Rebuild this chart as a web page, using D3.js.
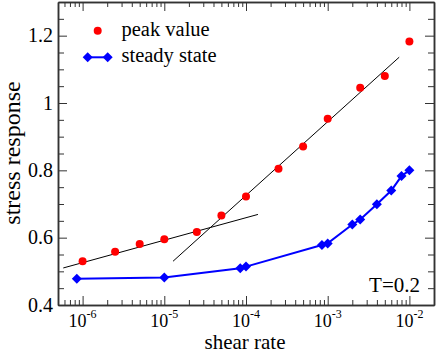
<!DOCTYPE html>
<html>
<head>
<meta charset="utf-8">
<script src="https://cdn.jsdelivr.net/npm/d3@7"></script>
<style>
body { margin: 0; background: #fff; }
svg { display: block; font-family: "Liberation Serif", serif; }
svg text { font-family: "Liberation Serif", serif; fill: #000; }
</style>
</head>
<body>
<script>
// peak value (red dots)
var peakRate = [1e-6, 2.5e-6, 5e-6, 1e-5, 2.5e-5, 5e-5, 1e-4, 2.5e-4, 5e-4, 1e-3, 2.5e-3, 5e-3, 1e-2]
var peakValue = [0.530, 0.558, 0.581, 0.595, 0.617, 0.666, 0.722, 0.805, 0.871, 0.953, 1.045, 1.080, 1.183]

// steady state (blue diamonds + line)
var steadyRate = [8.5e-7, 1e-5, 8.5e-5, 1e-4, 8.5e-4, 1e-3, 2e-3, 2.5e-3, 4e-3, 6e-3, 8e-3, 1e-2]
var steadyValue = [0.478, 0.482, 0.509, 0.514, 0.578, 0.583, 0.639, 0.654, 0.699, 0.740, 0.783, 0.800]

// two straight fit lines through the peak values
var fitLowRate = [5.8e-7, 1.4e-4]
var fitLowValue = [0.510, 0.669]
var fitHighRate = [1.28e-5, 7.5e-3]
var fitHighValue = [0.530, 1.136]

var xTicks = [1e-6, 1e-5, 1e-4, 1e-3, 1e-2]
var xTickExp = ["-6", "-5", "-4", "-3", "-2"]
var yTicks = [0.4, 0.6, 0.8, 1.0, 1.2]
var yTickLabels = ["0.4", "0.6", "0.8", "1", "1.2"]

var W = 436, H = 354
var m = {left: 58, right: 2, top: 2, bottom: 49}
var FONT = "Liberation Serif, serif"

var svg = d3.select("body").append("svg")
    .attr("width", W)
    .attr("height", H)
    .attr("font-family", FONT)

var x = d3.scaleLog().domain([5e-7, 2e-2]).range([m.left, W - m.right])
var y = d3.scaleLinear().domain([0.4, 1.3]).range([H - m.bottom, m.top])

// minor ticks
var xMinor = []
for (var e = -7; e <= -2; e++) {
    for (var k = 2; k <= 9; k++) {
        var v = k * Math.pow(10, e)
        if (v > 5e-7 && v < 2e-2) xMinor.push(v)
    }
}
var yMinor = d3.range(0.45, 1.3, 0.05).filter(function(v) {
    return Math.abs(v * 5 - Math.round(v * 5)) > 1e-6
})

function styleAxis(g) {
    g.select(".domain").attr("stroke", "#333").attr("stroke-width", 1.5)
    g.selectAll(".tick line").attr("stroke", "#333")
    g.selectAll(".tick text").remove()
}

var bottomY = H - m.bottom, rightX = W - m.right

// bottom + top
svg.append("g").attr("transform", "translate(0," + bottomY + ")")
    .call(d3.axisBottom(x).tickValues(xTicks).tickSizeInner(-9).tickSizeOuter(0)).call(styleAxis)
svg.append("g").attr("transform", "translate(0," + bottomY + ")")
    .call(d3.axisBottom(x).tickValues(xMinor).tickSizeInner(-5).tickSizeOuter(0)).call(styleAxis)
svg.append("g").attr("transform", "translate(0," + m.top + ")")
    .call(d3.axisTop(x).tickValues(xTicks).tickSizeInner(-9).tickSizeOuter(0)).call(styleAxis)
svg.append("g").attr("transform", "translate(0," + m.top + ")")
    .call(d3.axisTop(x).tickValues(xMinor).tickSizeInner(-5).tickSizeOuter(0)).call(styleAxis)

// left + right
svg.append("g").attr("transform", "translate(" + m.left + ",0)")
    .call(d3.axisLeft(y).tickValues(yTicks).tickSizeInner(-9).tickSizeOuter(0)).call(styleAxis)
svg.append("g").attr("transform", "translate(" + m.left + ",0)")
    .call(d3.axisLeft(y).tickValues(yMinor).tickSizeInner(-6).tickSizeOuter(0)).call(styleAxis)
svg.append("g").attr("transform", "translate(" + rightX + ",0)")
    .call(d3.axisRight(y).tickValues(yTicks).tickSizeInner(-9).tickSizeOuter(0)).call(styleAxis)
svg.append("g").attr("transform", "translate(" + rightX + ",0)")
    .call(d3.axisRight(y).tickValues(yMinor).tickSizeInner(-6).tickSizeOuter(0)).call(styleAxis)

// tick labels
svg.selectAll(".xlab").data(xTicks).enter().append("text")
    .attr("class", "xlab")
    .attr("x", function(d) { return x(d) - 14 })
    .attr("y", bottomY + 21.7)
    .attr("font-family", FONT)
    .attr("font-size", 18)
    .each(function(d, i) {
        var t = d3.select(this)
        t.append("tspan").text("10")
        t.append("tspan").attr("font-size", 12).attr("dy", -9).text(xTickExp[i])
    })

svg.selectAll(".ylab").data(yTicks).enter().append("text")
    .attr("class", "ylab")
    .attr("x", m.left - 5)
    .attr("y", function(d) { return y(d) + 6.5 })
    .attr("text-anchor", "end")
    .attr("font-family", FONT)
    .attr("font-size", 20)
    .text(function(d, i) { return yTickLabels[i] })

// axis titles
svg.append("text")
    .attr("x", 245).attr("y", 349.4)
    .attr("text-anchor", "middle")
    .attr("font-family", FONT)
    .attr("font-size", 21)
    .text("shear rate")

svg.append("text")
    .attr("transform", "translate(20,153) rotate(-90)")
    .attr("text-anchor", "middle")
    .attr("font-family", FONT)
    .attr("font-size", 24)
    .text("stress response")

// fit lines
var fitLine = d3.line()
    .x(function(d) { return x(d[0]) })
    .y(function(d) { return y(d[1]) })

svg.append("path")
    .datum(d3.zip(fitLowRate, fitLowValue))
    .attr("d", fitLine)
    .attr("fill", "none").attr("stroke", "#000").attr("stroke-width", 1)
svg.append("path")
    .datum(d3.zip(fitHighRate, fitHighValue))
    .attr("d", fitLine)
    .attr("fill", "none").attr("stroke", "#000").attr("stroke-width", 1)

// steady state
var steady = d3.zip(steadyRate, steadyValue)
svg.append("path")
    .datum(steady)
    .attr("d", fitLine)
    .attr("fill", "none").attr("stroke", "#0000ff").attr("stroke-width", 2)

var diamond = d3.symbol().type(d3.symbolSquare).size(50)
svg.selectAll(".dia").data(steady).enter().append("path")
    .attr("class", "dia")
    .attr("d", diamond)
    .attr("transform", function(d) { return "translate(" + x(d[0]) + "," + y(d[1]) + ") rotate(45)" })
    .attr("fill", "#0000ff")

// peak value
svg.selectAll(".peak").data(d3.zip(peakRate, peakValue)).enter().append("circle")
    .attr("class", "peak")
    .attr("cx", function(d) { return x(d[0]) })
    .attr("cy", function(d) { return y(d[1]) })
    .attr("r", 4)
    .attr("fill", "#ff0000")

// legend
var lg = svg.append("g")
lg.append("circle").attr("cx", 97.7).attr("cy", 30.7).attr("r", 4).attr("fill", "#ff0000")
lg.append("text").attr("x", 121.5).attr("y", 35.5).attr("font-family", FONT).attr("font-size", 20.5).text("peak value")
lg.append("line").attr("x1", 87.7).attr("x2", 107.7).attr("y1", 57.3).attr("y2", 57.3)
    .attr("stroke", "#0000ff").attr("stroke-width", 2)
;[87.7, 107.7].forEach(function(px) {
    lg.append("path").attr("d", diamond)
        .attr("transform", "translate(" + px + ",57.3) rotate(45)")
        .attr("fill", "#0000ff")
})
lg.append("text").attr("x", 121.5).attr("y", 62).attr("font-family", FONT).attr("font-size", 20.5).text("steady state")

// temperature
svg.append("text")
    .attr("x", 420).attr("y", 292)
    .attr("text-anchor", "end")
    .attr("font-family", FONT)
    .attr("font-size", 21)
    .text("T=0.2")
</script>
</body>
</html>
